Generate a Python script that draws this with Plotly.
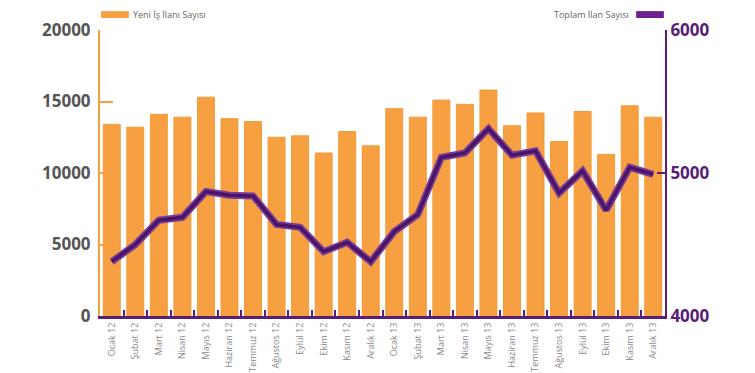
import plotly.graph_objects as go

months = ["Ocak", "Şubat", "Mart", "Nisan", "Mayıs", "Haziran", "Temmuz",
          "Ağustos", "Eylül", "Ekim", "Kasım", "Aralık"]
categories = [f"{m} 12" for m in months] + [f"{m} 13" for m in months]

yeni_ilan = [13400, 13200, 14100, 13900, 15300, 13800, 13600, 12500, 12600, 11400, 12900, 11900,
             14500, 13900, 15100, 14800, 15800, 13300, 14200, 12200, 14300, 11300, 14700, 13900]
toplam_ilan = [4380, 4500, 4670, 4690, 4870, 4845, 4840, 4640, 4620, 4450, 4515, 4380,
               4590, 4710, 5110, 5140, 5310, 5125, 5155, 4860, 5015, 4740, 5040, 4990]

left_ticks = [0, 5000, 10000, 15000, 20000]
right_ticks = [4000, 5000, 6000]

ORANGE = "#F7A041"
PURPLE = "#5A1E79"
GRAY = "#555555"

fig = go.Figure()
fig.add_trace(go.Bar(x=categories, y=yeni_ilan, name="Yeni İş İlanı Sayısı",
                     marker=dict(color=ORANGE, line=dict(color="#F39A3A", width=1)),
                     showlegend=False))
fig.add_trace(go.Scatter(x=categories, y=toplam_ilan, yaxis="y2", mode="lines",
                         line=dict(color="#7A3C98", width=7), showlegend=False,
                         hoverinfo="skip"))
fig.add_trace(go.Scatter(x=categories, y=toplam_ilan, yaxis="y2", mode="lines",
                         name="Toplam İlan Sayısı",
                         line=dict(color="#4A1566", width=3.5), showlegend=False))

fig.update_layout(
    width=747, height=365,
    margin=dict(l=92, r=90, t=22, b=57, autoexpand=False),
    paper_bgcolor="white", plot_bgcolor="white",
    bargap=0.28,
    font=dict(family="Open Sans", color=GRAY),
    xaxis=dict(
        type="category", showgrid=False, showline=True, linecolor=PURPLE, linewidth=3,
        ticks="inside", tickson="boundaries", ticklen=6, tickcolor=PURPLE, tickwidth=2,
        tickangle=-90, tickfont=dict(size=9, color="#888888"), zeroline=False,
        automargin=False,
    ),
    yaxis=dict(
        range=[0, 20000], tickvals=left_ticks, tickformat="d", showgrid=False, zeroline=False,
        showline=True, linecolor=ORANGE, linewidth=2,
        ticks="inside", ticklen=13, tickcolor=ORANGE, tickwidth=2,
        tickfont=dict(size=17, color=GRAY, weight="bold"), ticklabelstandoff=4,
        automargin=False,
    ),
    yaxis2=dict(
        range=[4000, 6000], tickvals=right_ticks, tickformat="d", overlaying="y", side="right",
        showgrid=False, zeroline=False, showline=True, linecolor=PURPLE, linewidth=2,
        ticks="inside", ticklen=8, tickcolor=PURPLE, tickwidth=2,
        tickfont=dict(size=17, color=PURPLE, weight="bold"),
        automargin=False,
    ),
    shapes=[
        dict(type="rect", xref="paper", yref="paper", x0=0.002, x1=0.051,
             y0=1.042, y1=1.066, fillcolor=ORANGE, line=dict(width=0)),
        dict(type="rect", xref="paper", yref="paper", x0=0.949, x1=0.998,
             y0=1.042, y1=1.066, fillcolor="#6E1F8E", line=dict(width=0)),
    ],
    annotations=[
        dict(text="Yeni İş İlanı Sayısı", xref="paper", yref="paper", x=0.055, y=1.054,
             xanchor="left", yanchor="middle", showarrow=False,
             font=dict(size=9, color="#666666")),
        dict(text="Toplam İlan Sayısı", xref="paper", yref="paper", x=0.940, y=1.054,
             xanchor="right", yanchor="middle", showarrow=False,
             font=dict(size=9, color="#666666")),
    ],
)

fig.write_html("out.html")
